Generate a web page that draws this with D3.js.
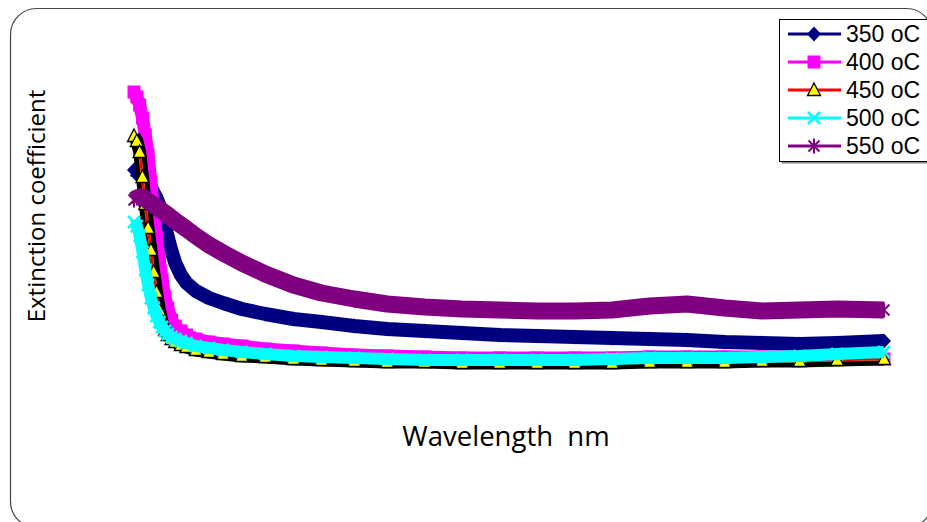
<!DOCTYPE html>
<meta charset="utf-8">
<head>
    <title>Extinction coefficient</title>
</head>
<style>
 body { margin: 0; background: #fff; }
 .frame { fill: none; stroke: #444; stroke-width: 1.2px; }
 .axis-label { font-family: "Open Sans", sans-serif; fill: #000; }
 .legend text { font-family: "Liberation Sans", Arial, sans-serif; font-size: 23px; fill: #000; }
</style>
<body>
    <div id="chart"></div>
    <script src="https://d3js.org/d3.v7.min.js"></script>
    <script>

     // wavelength samples (nm), shared by every series
     var wavelength = [300, 303, 306, 309, 312, 315, 318, 321, 324, 327, 330, 333, 336, 340, 344,
                       350, 356, 366, 380, 395, 415, 440, 470, 500, 535, 570, 610, 650, 690, 730,
                       770, 810, 850, 890, 930, 970, 1010, 1050, 1100];

     var k350 = [.230, .228, .225, .223, .220, .217, .213, .207, .202, .195, .186, .175, .163, .149, .137,
                 .125, .117, .109, .102, .097, .091, .086, .081, .078, .074, .071, .069, .067, .065, .064,
                 .063, .062, .061, .060, .058, .057, .056, .057, .059];
     var k400 = [.308, .303, .295, .282, .265, .245, .218, .188, .162, .140, .120, .103, .092, .080, .074,
                 .069, .065, .061, .058, .056, .054, .051, .049, .047, .045, .044, .043, .042, .042, .042,
                 .042, .042, .043, .043, .043, .043, .043, .042, .041];
     var k450 = [.264, .259, .248, .223, .196, .172, .150, .128, .108, .090, .078, .070, .065, .061, .058,
                 .055, .053, .050, .048, .046, .044, .043, .041, .040, .039, .038, .038, .037, .037, .037,
                 .037, .037, .038, .038, .038, .039, .039, .040, .041];
     var k500 = [.178, .174, .164, .148, .130, .115, .102, .092, .084, .078, .073, .069, .066, .063, .061,
                 .059, .057, .054, .052, .050, .048, .046, .044, .043, .042, .041, .040, .040, .040, .040,
                 .040, .041, .042, .042, .042, .043, .044, .046, .048];
     var k550 = [.200, .202, .203, .203, .201, .199, .197, .195, .193, .191, .189, .187, .185, .182, .179,
                 .175, .171, .164, .155, .147, .137, .126, .115, .107, .101, .096, .093, .091, .090, .089,
                 .089, .090, .094, .096, .092, .089, .090, .091, .090];

     var seriesNames = ["350 oC", "400 oC", "450 oC", "500 oC", "550 oC"];

     var width = 927,
         height = 522;

     var svg = d3.select("#chart").append("svg")
                 .attr("width", width)
                 .attr("height", height);

     var x = d3.scaleLinear().domain([300, 1100]).range([134, 884]);
     var y = d3.scaleLinear().domain([0, 0.35]).range([400, 50]);

     // marker shapes, roughly like the spreadsheet ones
     var shapes = {
         diamond: "M0,-7.5L7,0L0,7.5L-7,0Z",
         square: "M-6.5,-6.5h13v13h-13Z",
         triangle: "M0,-7L6.5,5.5L-6.5,5.5Z",
         cross: "M-6,-6L6,6M-6,6L6,-6",
         star: "M-5.5,-5.5L5.5,5.5M-5.5,5.5L5.5,-5.5M0,-7.5V7.5"
     };

     var series = [
         {name: seriesNames[0], values: k350, line: "#000080", shape: "diamond",
          fill: "#000080", stroke: "none", sw: 0, bands: [["#000080", 14]]},
         {name: seriesNames[1], values: k400, line: "#ff00ff", shape: "square",
          fill: "#ff00ff", stroke: "none", sw: 0, bands: [["#ff00ff", 13]]},
         {name: seriesNames[2], values: k450, line: "#ff0000", shape: "triangle",
          fill: "#ffff00", stroke: "#000", sw: 1.3, bands: [["#000", 13], ["#c8c800", 3]]},
         {name: seriesNames[3], values: k500, line: "#00ffff", shape: "cross",
          fill: "none", stroke: "#00ffff", sw: 2.5, bands: [["#00ffff", 12]]},
         {name: seriesNames[4], values: k550, line: "#800080", shape: "star",
          fill: "none", stroke: "#800080", sw: 2, bands: [["#800080", 17]]}
     ];

     // rounded outer frame
     svg.append("rect")
        .attr("class", "frame")
        .attr("x", 10.5).attr("y", 8.5)
        .attr("width", 922).attr("height", 519)
        .attr("rx", 26).attr("ry", 26);

     var line = d3.line()
                  .x(function(d, i) { return x(wavelength[i]); })
                  .y(function(d) { return y(d); });

     var plot = svg.append("g").attr("class", "plot");

     series.forEach(function(s) {
         var g = plot.append("g");
         s.bands.forEach(function(b) {
             g.append("path")
              .datum(s.values)
              .attr("fill", "none")
              .attr("stroke", b[0])
              .attr("stroke-width", b[1])
              .attr("stroke-linejoin", "round")
              .attr("d", line);
         });
         g.append("path")
          .datum(s.values)
          .attr("fill", "none")
          .attr("stroke", s.line)
          .attr("stroke-width", 2.5)
          .attr("d", line);
         g.selectAll(".mk")
          .data(s.values)
          .enter()
          .append("path")
          .attr("class", "mk")
          .attr("transform", function(d, i) {
              return "translate(" + x(wavelength[i]) + "," + y(d) + ")";
          })
          .attr("d", shapes[s.shape])
          .attr("fill", s.fill)
          .attr("stroke", s.stroke)
          .attr("stroke-width", s.sw);
     });

     // axis titles
     svg.append("text")
        .attr("class", "axis-label")
        .attr("transform", "translate(45,206) rotate(-90)")
        .attr("text-anchor", "middle")
        .style("font-size", "24px")
        .text("Extinction coefficient");

     svg.append("text")
        .attr("class", "axis-label")
        .attr("x", 506).attr("y", 446)
        .attr("text-anchor", "middle")
        .style("font-size", "27.5px")
        .style("white-space", "pre")
        .attr("xml:space", "preserve")
        .text("Wavelength  nm");

     // legend
     var legend = svg.append("g").attr("class", "legend");

     legend.append("rect")
           .attr("x", 781.5).attr("y", 21.5)
           .attr("width", 160).attr("height", 142)
           .attr("fill", "#888");
     legend.append("rect")
           .attr("x", 779.5).attr("y", 19.5)
           .attr("width", 160).attr("height", 142)
           .attr("fill", "#fff")
           .attr("stroke", "#000")
           .attr("stroke-width", 1);

     var item = legend.selectAll(".item")
                      .data(series)
                      .enter()
                      .append("g")
                      .attr("class", "item")
                      .attr("transform", function(d, i) {
                          return "translate(0," + (34 + i * 28) + ")";
                      });

     item.append("line")
         .attr("x1", 788).attr("x2", 841)
         .attr("stroke", function(d) { return d.line; })
         .attr("stroke-width", 3);

     item.append("path")
         .attr("transform", "translate(814,0)")
         .attr("d", function(d) { return shapes[d.shape]; })
         .attr("fill", function(d) { return d.fill; })
         .attr("stroke", function(d) { return d.stroke; })
         .attr("stroke-width", function(d) { return d.sw; });

     item.append("text")
         .attr("x", 846)
         .attr("dy", "0.36em")
         .text(function(d) { return d.name; });
    </script>
</body>
